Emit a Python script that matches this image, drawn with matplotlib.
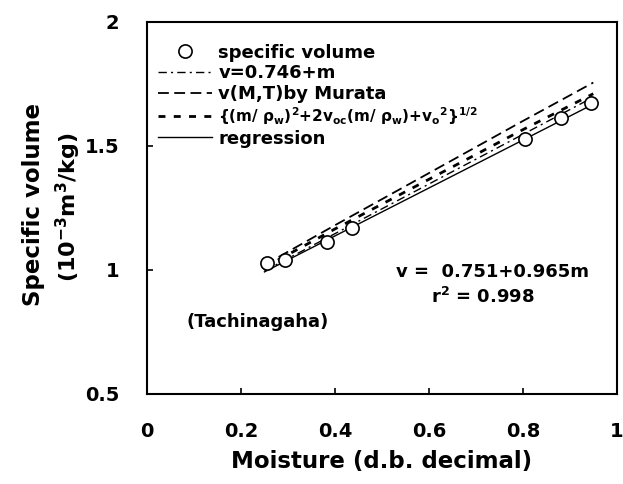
import matplotlib
matplotlib.use('Agg')
import matplotlib.pyplot as plt
import numpy as np

plt.rcParams['font.family'] = ['DejaVu Sans']
plt.rcParams['font.weight'] = 'bold'
plt.rcParams['mathtext.fontset'] = 'dejavusans'
plt.rcParams['mathtext.default'] = 'bf'

# ---- data ----
moisture = [0.256, 0.294, 0.383, 0.436, 0.805, 0.881, 0.945]
spec_vol = [1.028, 1.040, 1.113, 1.169, 1.528, 1.613, 1.673]

line_x = [0.25, 0.95]
simple_v = [0.996, 1.696]          # v = 0.746 + m
regress_v = [0.992, 1.668]         # v = 0.751 + 0.965 m

curve_x = [0.25, 0.4, 0.6, 0.8, 0.95]
murata_v = [1.02, 1.18, 1.39, 1.60, 1.755]
sqrt_v = [1.01, 1.165, 1.365, 1.565, 1.71]

fig = plt.figure(figsize=(6.23, 4.84), dpi=100)
ax = fig.add_axes([0.236, 0.186, 0.754, 0.769])

ax.plot(moisture, spec_vol, 'o', ms=9.5, mfc='white', mec='black', mew=1.2,
        label='specific volume', zorder=5)
ax.plot(line_x, simple_v, color='black', lw=1.0, dashes=(6, 3, 1.5, 3),
        label='v=0.746+m')
ax.plot(curve_x, murata_v, color='black', lw=1.3, dashes=(6, 3),
        label='v(M,T)by Murata')
ax.plot(curve_x, sqrt_v, color='black', lw=2.0, dashes=(2.5, 3),
        label=r'{(m/ ρ$_{w}$)$^{2}$+2v$_{oc}$(m/ ρ$_{w}$)+v$_{o}$$^{2}$}$^{1/2}$')
ax.plot(line_x, regress_v, color='black', lw=1.0, label='regression')

ax.set_xlim(0, 1)
ax.set_ylim(0.5, 2)
ax.set_xticks([0, 0.2, 0.4, 0.6, 0.8, 1])
ax.set_xticklabels(['0', '0.2', '0.4', '0.6', '0.8', '1'])
ax.set_yticks([0.5, 1, 1.5, 2])
ax.set_yticklabels(['0.5', '1', '1.5', '2'])
ax.tick_params(direction='in', length=4, width=1.2, labelsize=14, pad=20)
for s in ax.spines.values():
    s.set_linewidth(1.5)

ax.set_xlabel('Moisture (d.b. decimal)', fontsize=16.5, fontweight='bold', labelpad=7)
fig.text(0.053, 0.578, 'Specific volume', rotation=90, fontsize=16.5,
         fontweight='bold', ha='center', va='center')
fig.text(0.110, 0.572, r'(10$^{-3}$m$^{3}$/kg)', rotation=90, fontsize=16,
         fontweight='bold', ha='center', va='center')

ax.text(0.53, 0.328, 'v =  0.751+0.965m', transform=ax.transAxes, fontsize=13,
        fontweight='bold', va='center')
ax.text(0.714, 0.26, r'r$^{2}$ = 0.998', transform=ax.transAxes, fontsize=13,
        fontweight='bold', va='center', ha='center')
ax.text(0.085, 0.194, '(Tachinagaha)', transform=ax.transAxes, fontsize=13,
        fontweight='bold', va='center')

leg = ax.legend(loc='upper left', bbox_to_anchor=(0.0, 0.97), frameon=False,
                fontsize=13, handlelength=3.0, handletextpad=0.35,
                labelspacing=0.14, borderaxespad=0.2)
for t in leg.get_texts():
    t.set_fontweight('bold')
leg.get_texts()[3].set_fontsize(11)

fig.savefig('out.png', dpi=100)
